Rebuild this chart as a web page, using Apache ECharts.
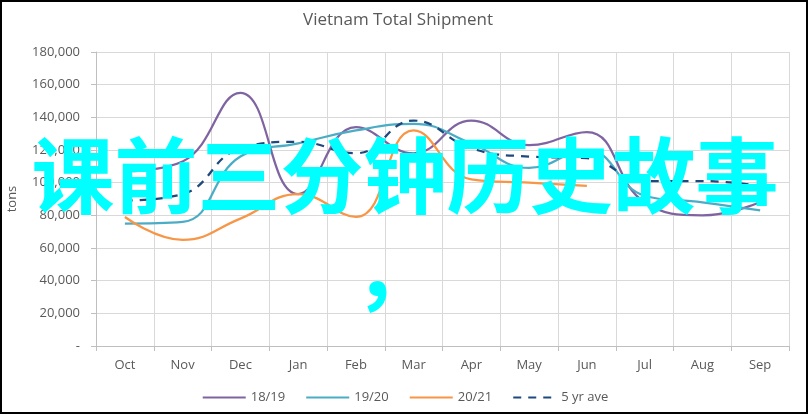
<!DOCTYPE html>
<html>
<head>
<meta charset="utf-8">
<script src="https://cdn.jsdelivr.net/npm/echarts@6/dist/echarts.min.js"></script>
<style>
html,body{margin:0;padding:0;background:#fff;}
#chart{position:absolute;left:0;top:0;width:810px;height:416px;}
#frame{position:absolute;left:0;top:0;width:808px;height:414px;border:2px solid #000;box-sizing:border-box;pointer-events:none;}
</style>
</head>
<body>
<div id="chart"></div>
<div id="frame"></div>
<script>
const months = ['Oct','Nov','Dec','Jan','Feb','Mar','Apr','May','Jun','Jul','Aug','Sep'];
const s1819 = [107000, 113000, 155000, 93000, 134000, 118000, 138000, 123000, 131000, 88000, 80000, 88000];
const s1920 = [75000, 76000, 116000, 124000, 132000, 136000, 124000, 109000, 120000, 92000, 88000, 83000];
const s2021 = [79000, 65000, 78000, 93000, 79000, 132000, 102000, 100000, 98000];
const ave5 = [89000, 93000, 121000, 125000, 118000, 138000, 121000, 116000, 115000, 101000, 101000, 98000];
const yTicks = [0, 20000, 40000, 60000, 80000, 100000, 120000, 140000, 160000, 180000];
const overlayLine1 = '课前三分钟历史故事';
const overlayLine2 = '，';

const chart = echarts.init(document.getElementById('chart'));
const fontFam = '"Open Sans", "Liberation Sans", sans-serif';
const grey = '#595959';
function fmt(v){ return v === 0 ? '-' : v.toLocaleString('en-US'); }

chart.setOption({
  animation: false,
  backgroundColor: 'transparent',
  title: {
    text: 'Vietnam Total Shipment',
    left: 298, top: 7,
    textStyle: { fontFamily: fontFam, fontSize: 17, fontWeight: 'normal', color: grey }
  },
  grid: { left: 96, right: 21, top: 52, bottom: 70, containLabel: false, outerBoundsMode: 'none' },
  legend: {
    bottom: 7, left: 'center',
    itemWidth: 43, itemHeight: 10, itemGap: 20,
    itemStyle: { opacity: 0 },
    textStyle: { fontFamily: fontFam, fontSize: 13, color: grey },
    data: ['18/19','19/20','20/21','5 yr ave']
  },
  xAxis: {
    type: 'category', data: months, boundaryGap: true,
    axisLine: { lineStyle: { color: '#BFBFBF' } },
    axisTick: { show: true, alignWithLabel: false, length: 5, lineStyle: { color: '#BFBFBF' } },
    axisLabel: { fontFamily: fontFam, fontSize: 13, color: grey, margin: 13 },
    splitLine: { show: true, lineStyle: { color: '#D9D9D9' } }
  },
  yAxis: {
    type: 'value', min: 0, max: 180000, interval: 20000,
    name: 'tons', nameLocation: 'middle', nameGap: 77, nameRotate: 90,
    nameTextStyle: { fontFamily: fontFam, fontSize: 13, color: grey },
    axisLine: { show: true, lineStyle: { color: '#BFBFBF' } },
    axisTick: { show: true, inside: false, length: 5, lineStyle: { color: '#BFBFBF' } },
    axisLabel: { fontFamily: fontFam, fontSize: 13, color: grey, margin: 16, formatter: fmt },
    splitLine: { show: true, lineStyle: { color: '#D9D9D9' } }
  },
  series: [
    { name: '18/19', type: 'line', data: s1819, smooth: 0.45, showSymbol: false, symbol: 'none',
      lineStyle: { width: 2.25, color: '#8064A2' }, itemStyle: { color: '#8064A2' } },
    { name: '19/20', type: 'line', data: s1920, smooth: 0.45, showSymbol: false, symbol: 'none',
      lineStyle: { width: 2.25, color: '#4BACC6' }, itemStyle: { color: '#4BACC6' } },
    { name: '20/21', type: 'line', data: s2021, smooth: 0.45, showSymbol: false, symbol: 'none',
      lineStyle: { width: 2.25, color: '#F79646' }, itemStyle: { color: '#F79646' } },
    { name: '5 yr ave', type: 'line', data: ave5, smooth: 0.45, showSymbol: false, symbol: 'none',
      lineStyle: { width: 2.25, color: '#1F497D', type: [8, 7] }, itemStyle: { color: '#1F497D' } }
  ],
  graphic: [
    { type: 'text', left: 'center', top: 134, z: 100,
      style: { text: overlayLine1, fill: '#00FFFF', font: 'bold 83px "Noto Sans CJK SC"' } },
    { type: 'text', left: 354, top: 228, z: 100,
      style: { text: overlayLine2, fill: '#00FFFF', font: 'bold 83px "Noto Sans CJK SC"' } }
  ]
});
</script>
</body>
</html>
